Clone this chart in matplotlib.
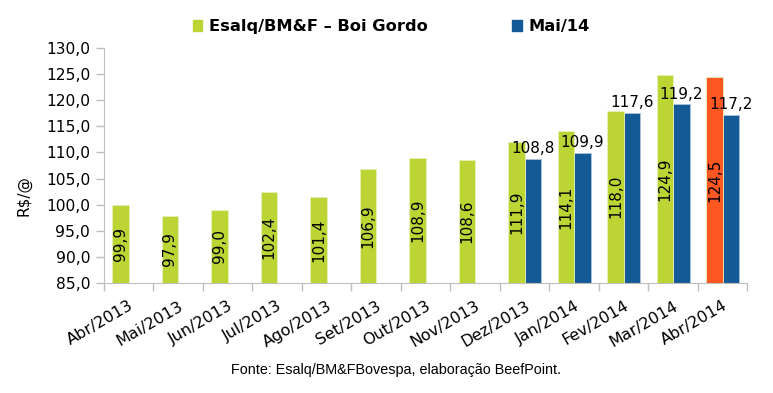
import numpy as np
import matplotlib
matplotlib.use("Agg")
import matplotlib.pyplot as plt
from matplotlib.patches import Patch

# data
months = ["Abr/2013", "Mai/2013", "Jun/2013", "Jul/2013", "Ago/2013", "Set/2013",
          "Out/2013", "Nov/2013", "Dez/2013", "Jan/2014", "Fev/2014", "Mar/2014", "Abr/2014"]
esalq = [99.9, 97.9, 99.0, 102.4, 101.4, 106.9, 108.9, 108.6, 111.9, 114.1, 118.0, 124.9, 124.5]
mai14 = [None, None, None, None, None, None, None, None, 108.8, 109.9, 117.6, 119.2, 117.2]
series_names = ["Esalq/BM&F \u2013 Boi Gordo", "Mai/14"]

GREEN = "#BCD534"
BLUE = "#145A96"
ORANGE = "#FF5722"
GRAY = "#BFBFBF"

plt.rcParams["font.family"] = "DejaVu Sans"

fig = plt.figure(figsize=(7.73, 3.93), dpi=100)
ax = fig.add_axes([0.1345, 0.280, 0.8325, 0.598])

x = np.arange(len(months))
w = 1 / 3.0
base = 85.0

green_colors = [GREEN] * (len(months) - 1) + [ORANGE]
heights = [v - base for v in esalq]
ax.bar(x - w / 2, heights, w, bottom=base, color=green_colors,
       edgecolor="#E6EFB8", linewidth=0.6, zorder=3)

bx = [i for i, v in enumerate(mai14) if v is not None]
bv = [mai14[i] for i in bx]
ax.bar(np.array(bx) + w / 2, [v - base for v in bv], w, bottom=base,
       color=BLUE, edgecolor="#A9C3DD", linewidth=0.6, zorder=2)

# labels inside green bars, rotated
for i, v in enumerate(esalq):
    ax.text(i - w / 2, (v + base) / 2, f"{v:.1f}".replace(".", ","), rotation=90,
            ha="center", va="center", fontsize=11, color="black", zorder=5)

# labels above blue bars
for i, v in zip(bx, bv):
    ax.annotate(f"{v:.1f}".replace(".", ","), (i + w / 2, v), xytext=(0, 2),
                textcoords="offset points", ha="center", va="bottom",
                fontsize=11, color="black", zorder=5)

ax.set_xlim(-0.5, len(months) - 0.5)
ax.set_ylim(85, 130)
ax.set_yticks(np.arange(85, 131, 5))
ax.set_yticklabels([f"{t:.1f}".replace(".", ",") for t in np.arange(85, 131, 5)], fontsize=11.2)

ax.set_xticks(x)
ax.set_xticklabels(months, rotation=30, ha="right", rotation_mode="anchor", fontsize=11.5)
ax.set_xticks(np.arange(-0.5, len(months), 1), minor=True)
ax.tick_params(axis="x", which="major", length=0, pad=11)
ax.tick_params(axis="x", which="minor", length=6, color=GRAY, width=1)
ax.tick_params(axis="y", length=6, color=GRAY, width=1, pad=4)

for s in ["top", "right"]:
    ax.spines[s].set_visible(False)
ax.spines["left"].set_color(GRAY)
ax.spines["bottom"].set_color(GRAY)

ax.set_ylabel("R$/@", fontsize=11)
ax.yaxis.set_label_coords(-0.112, 0.374)

handles = [Patch(color=GREEN), Patch(color=BLUE)]
fig.legend(handles, series_names, loc="center", bbox_to_anchor=(0.506, 0.932), ncol=2,
           frameon=False, handlelength=0.6, handleheight=0.6, handletextpad=0.4,
           columnspacing=5.2, prop={"weight": "bold", "size": 11.7})

fig.text(0.512, 0.058, "Fonte: Esalq/BM&FBovespa, elabora\u00e7\u00e3o BeefPoint.",
         ha="center", va="center", fontsize=10.4, family="Liberation Sans")

fig.savefig("out.png", dpi=100)
